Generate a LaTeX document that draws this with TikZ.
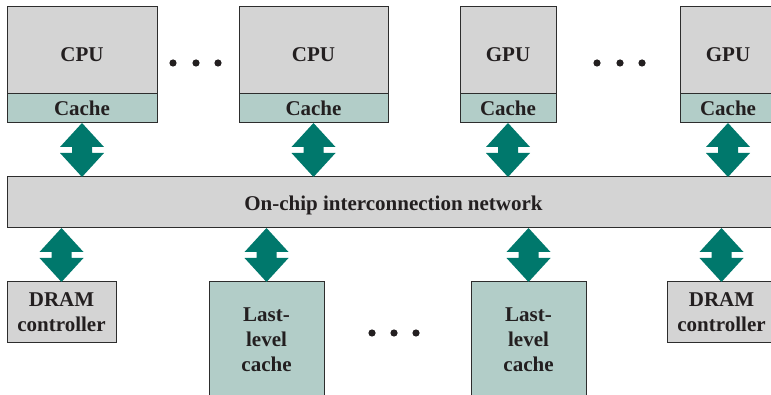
\documentclass[tikz,border=0pt]{standalone}
\usepackage{fontspec}
\setmainfont{Liberation Serif}
\usetikzlibrary{calc}
\definecolor{boxgray}{RGB}{212,212,212}
\definecolor{cachecol}{RGB}{178,205,200}
\definecolor{arrowcol}{RGB}{0,120,108}
\definecolor{bordercol}{RGB}{45,45,45}
\definecolor{textcol}{RGB}{35,31,32}
\newcommand\dblarr[2]{%
  \fill[arrowfill] let \p1=(#1), \p2=(#2) in
    (\x1,\y1) -- (\x1+22pt,\y1-24pt) -- (\x1+10pt,\y1-24pt) -- (\x1+10pt,\y2+24pt)
    -- (\x1+22pt,\y2+24pt) -- (\x1,\y2) -- (\x1-22pt,\y2+24pt) -- (\x1-10pt,\y2+24pt)
    -- (\x1-10pt,\y1-24pt) -- (\x1-22pt,\y1-24pt) -- cycle;}
\newcommand\lowtext[2][4.5pt]{\raisebox{-#1}[\height][\depth]{#2}}
\tikzset{
  box/.style={draw=bordercol, line width=1pt, inner sep=0pt, outer sep=0pt,
    anchor=north west, text=textcol, align=center,
    font=\fontsize{21}{25}\selectfont\bfseries},
  graybox/.style={box, fill=boxgray},
  cachebox/.style={box, fill=cachecol},
  arrowfill/.style={fill=arrowcol},
  dot/.style={fill=textcol}
}
\begin{document}
\begin{tikzpicture}[x=1pt,y=-1pt]
\useasboundingbox (0,0) rectangle (771,395);
\clip (0,0) rectangle (771,395);
% processors
\node[graybox, minimum width=150pt, minimum height=87pt] (cpu1) at (7,7) {\lowtext{CPU}};
\node[cachebox, minimum width=150pt, minimum height=29pt] (cache1) at (7,94) {Cache};
\node[graybox, minimum width=149pt, minimum height=87pt] (cpu2) at (239,7) {\lowtext{CPU}};
\node[cachebox, minimum width=149pt, minimum height=29pt] (cache2) at (239,94) {Cache};
\node[graybox, minimum width=96pt, minimum height=87pt] (gpu1) at (460,7) {\lowtext{GPU}};
\node[cachebox, minimum width=96pt, minimum height=29pt] (cache3) at (460,94) {Cache};
\node[graybox, minimum width=96pt, minimum height=87pt] (gpu2) at (680,7) {\lowtext{GPU}};
\node[cachebox, minimum width=96pt, minimum height=29pt] (cache4) at (680,94) {Cache};
% interconnect
\node[graybox, minimum width=773pt, minimum height=51pt] (bar) at (7,177) {\lowtext[2.5pt]{On-chip interconnection network}};
% lower row
\node[graybox, minimum width=109pt, minimum height=60pt] (dram1) at (7,282) {DRAM\\controller};
\node[cachebox, minimum width=115pt, minimum height=116pt] (llc1) at (209,282) {Last-\\level\\cache};
\node[cachebox, minimum width=115pt, minimum height=116pt] (llc2) at (471,282) {Last-\\level\\cache};
\node[graybox, minimum width=109pt, minimum height=60pt] (dram2) at (667,282) {DRAM\\controller};
% arrows
\dblarr{cache1.south}{cache1.south |- bar.north}
\dblarr{cache2.south}{cache2.south |- bar.north}
\dblarr{cache3.south}{cache3.south |- bar.north}
\dblarr{cache4.south}{cache4.south |- bar.north}
\dblarr{dram1.north |- bar.south}{dram1.north}
\dblarr{llc1.north |- bar.south}{llc1.north}
\dblarr{llc2.north |- bar.south}{llc2.north}
\dblarr{dram2.north |- bar.south}{dram2.north}
% ellipses
\foreach \x in {173,196,218,597,620,642} \fill[dot] (\x,63) circle (3.6);
\foreach \x in {372,394,416} \fill[dot] (\x,333) circle (3.6);
\end{tikzpicture}
\end{document}
